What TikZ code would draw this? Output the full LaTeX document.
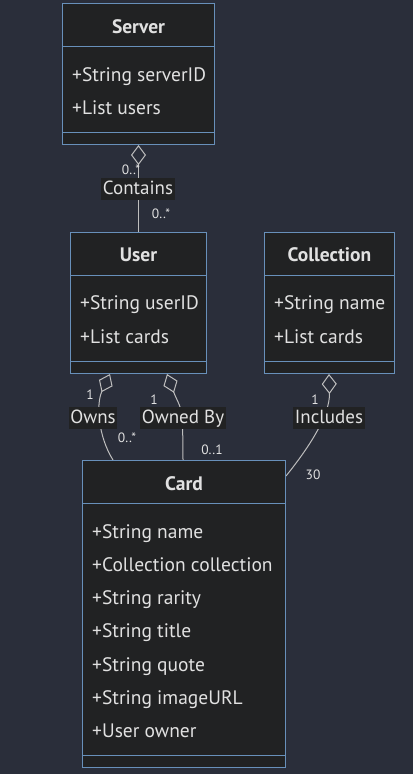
\documentclass[tikz,border=0pt]{standalone}
\usepackage{fontspec}
\setmainfont{PT Sans}
\usetikzlibrary{arrows.meta,calc}
\definecolor{bgc}{RGB}{42,46,58}
\definecolor{boxfill}{RGB}{33,34,35}
\definecolor{boxline}{RGB}{104,144,186}
\definecolor{txt}{RGB}{225,225,225}
\definecolor{edgec}{RGB}{190,190,190}
\begin{document}
\begin{tikzpicture}[x=1pt,y=-1pt,
  classbox/.style={draw=boxline, fill=boxfill, line width=1pt, inner sep=0pt, anchor=north west},
  divider/.style={draw=boxline, line width=1pt},
  ctitle/.style={text=txt, font=\fontsize{19.5}{21}\selectfont\bfseries, inner sep=0pt, text height=15.5pt, text depth=2.5pt},
  attr/.style={text=txt, font=\fontsize{19.5}{21}\selectfont, inner sep=0pt, anchor=west, text height=15.5pt, text depth=2.5pt},
  rel/.style={draw=edgec, line width=1pt},
  agg/.style={rel, {Diamond[length=20pt,width=15pt,fill=bgc]}-},
  elabel/.style={fill=boxfill, text=txt, font=\fontsize{19}{21}\selectfont, inner xsep=1.5pt, inner ysep=0.5pt, text height=16.5pt, text depth=4.5pt},
  card/.style={text=txt, font=\fontsize{13.5}{15}\selectfont, inner sep=0pt}]
\fill[bgc] (0,0) rectangle (413,774);
\useasboundingbox (0,0) rectangle (413,774);

% boxes (positions)
\coordinate (serverC) at (62,3);
\coordinate (userC) at (70,232);
\coordinate (collC) at (264,232);
\coordinate (cardC) at (82,460);

\path (serverC) node[classbox, minimum width=152pt, minimum height=141pt] (server) {};
\path (userC) node[classbox, minimum width=136pt, minimum height=141pt] (user) {};
\path (collC) node[classbox, minimum width=130pt, minimum height=141pt] (coll) {};
\path (cardC) node[classbox, minimum width=203pt, minimum height=307pt] (card) {};

% edges
\draw[agg] (server.south) -- (user.north);
\draw[agg] ($(user.south west)+(40,0)$) .. controls ($(user.south west)+(26,30)$) and ($(user.south west)+(28,62)$) .. ($(card.north west)+(31,0)$);
\draw[agg] ($(user.south west)+(97,0)$) .. controls ($(user.south west)+(110,35)$) and ($(card.north west)+(101,-60)$) .. ($(card.north west)+(101,0)$);
\draw[agg] ($(coll.south west)+(65,0)$) .. controls ($(coll.south west)+(66,40)$) and ($(card.north east)+(25,-15)$) .. ($(card.north east)+(0,16)$);

% boxes drawn over edges
\path (serverC) node[classbox, minimum width=152pt, minimum height=141pt] {};
\path (userC) node[classbox, minimum width=136pt, minimum height=141pt] {};
\path (collC) node[classbox, minimum width=130pt, minimum height=141pt] {};
\path (cardC) node[classbox, minimum width=203pt, minimum height=307pt] {};

% server
\draw[divider] ($(server.north west)+(0,43)$) -- ($(server.north east)+(0,43)$);
\draw[divider] ($(server.south west)+(0,-13)$) -- ($(server.south east)+(0,-13)$);
\node[ctitle] (serverT) at ($(server.north)+(0,24)$) {Server};
\node[attr] (serverA1) at ($(server.north west)+(10,72)$) {+String serverID};
\node[attr] (serverA2) at ($(server.north west)+(10,105)$) {+List users};

% user
\draw[divider] ($(user.north west)+(0,43)$) -- ($(user.north east)+(0,43)$);
\draw[divider] ($(user.south west)+(0,-13)$) -- ($(user.south east)+(0,-13)$);
\node[ctitle] (userT) at ($(user.north)+(0,23)$) {User};
\node[attr] (userA1) at ($(user.north west)+(10,71)$) {+String userID};
\node[attr] (userA2) at ($(user.north west)+(10,105)$) {+List cards};

% collection
\draw[divider] ($(coll.north west)+(0,43)$) -- ($(coll.north east)+(0,43)$);
\draw[divider] ($(coll.south west)+(0,-13)$) -- ($(coll.south east)+(0,-13)$);
\node[ctitle] (collT) at ($(coll.north)+(0,23)$) {Collection};
\node[attr] (collA1) at ($(coll.north west)+(10,71)$) {+String name};
\node[attr] (collA2) at ($(coll.north west)+(10,105)$) {+List cards};

% card
\draw[divider] ($(card.north west)+(0,43)$) -- ($(card.north east)+(0,43)$);
\draw[divider] ($(card.south west)+(0,-13)$) -- ($(card.south east)+(0,-13)$);
\node[ctitle] (cardT) at ($(card.north)+(0,24)$) {Card};
\node[attr] (cardA1) at ($(card.north west)+(10,72)$) {+String name};
\node[attr] (cardA2) at ($(card.north west)+(10,105)$) {+Collection collection};
\node[attr] (cardA3) at ($(card.north west)+(10,138)$) {+String rarity};
\node[attr] (cardA4) at ($(card.north west)+(10,171)$) {+String title};
\node[attr] (cardA5) at ($(card.north west)+(10,205)$) {+String quote};
\node[attr] (cardA6) at ($(card.north west)+(10,238)$) {+String imageURL};
\node[attr] (cardA7) at ($(card.north west)+(10,271)$) {+User owner};

% cardinalities
\node[card] (c1) at (131,170) {0..*};
\node[card] (c2) at (161,214) {0..*};
\node[card] (c3) at (90,395) {1};
\node[card] (c4) at (127,438) {0..*};
\node[card] (c5) at (154,400) {1};
\node[card] (c6) at (212,450) {0..1};
\node[card] (c7) at (315,400) {1};
\node[card] (c8) at (313,475) {30};

% edge labels
\node[elabel] (lContains) at (138,188.5) {Contains};
\node[elabel] (lOwns) at (93,417.5) {Owns};
\node[elabel] (lOwnedBy) at (183,417.5) {Owned By};
\node[elabel] (lIncludes) at (329,417.5) {Includes};
\end{tikzpicture}
\end{document}
